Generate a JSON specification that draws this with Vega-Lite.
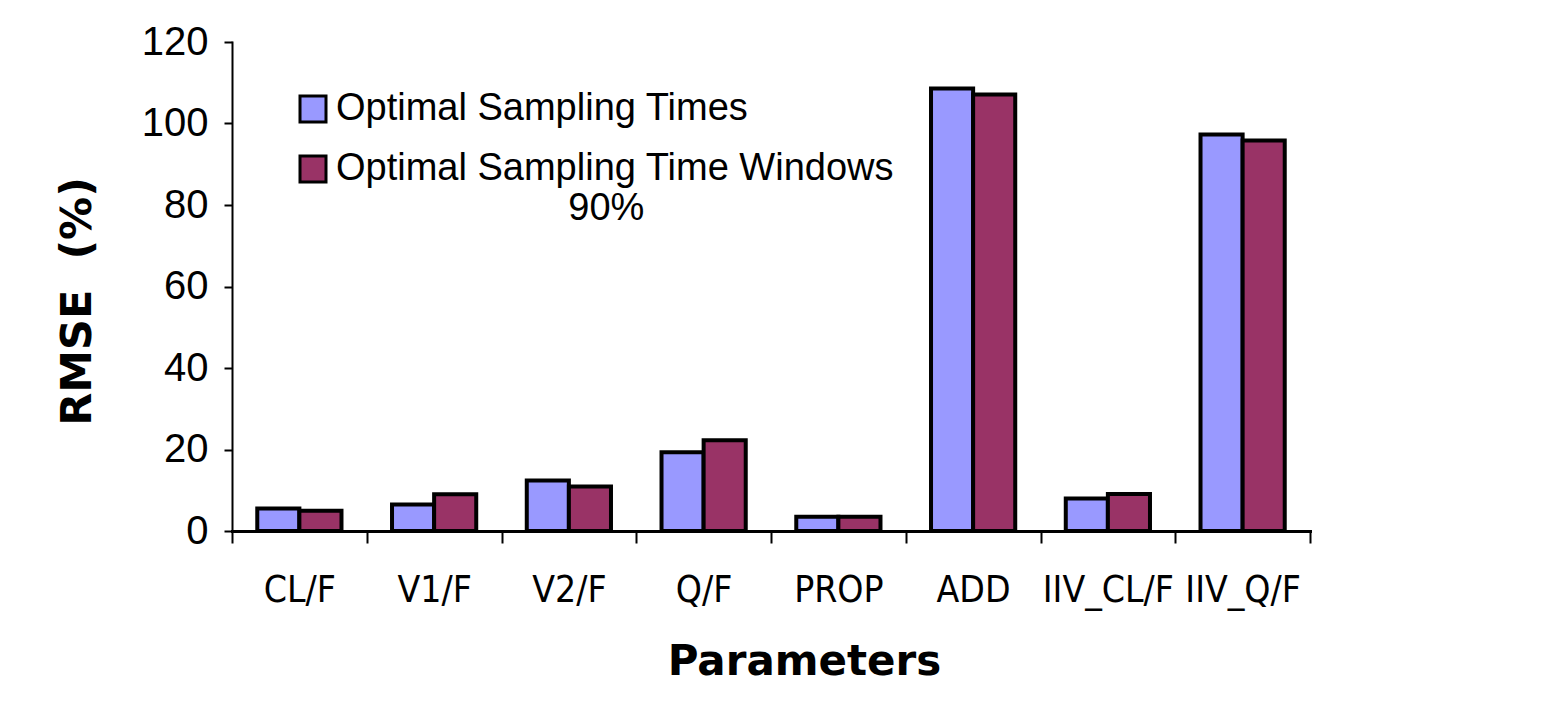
{
  "$schema": "https://vega.github.io/schema/vega-lite/v6.json",
  "width": 1078,
  "height": 489,
  "autosize": {"type": "none"},
  "padding": {"left": 232, "top": 42, "right": 242, "bottom": 181},
  "background": "white",
  "data": {
    "values": [
      {"param": "CL/F", "series": "Optimal Sampling Times", "rmse": 5.5},
      {"param": "CL/F", "series": "Optimal Sampling Time Windows", "rmse": 5.0},
      {"param": "V1/F", "series": "Optimal Sampling Times", "rmse": 6.5},
      {"param": "V1/F", "series": "Optimal Sampling Time Windows", "rmse": 9.0},
      {"param": "V2/F", "series": "Optimal Sampling Times", "rmse": 12.4},
      {"param": "V2/F", "series": "Optimal Sampling Time Windows", "rmse": 10.9},
      {"param": "Q/F", "series": "Optimal Sampling Times", "rmse": 19.3},
      {"param": "Q/F", "series": "Optimal Sampling Time Windows", "rmse": 22.3},
      {"param": "PROP", "series": "Optimal Sampling Times", "rmse": 3.5},
      {"param": "PROP", "series": "Optimal Sampling Time Windows", "rmse": 3.5},
      {"param": "ADD", "series": "Optimal Sampling Times", "rmse": 108.6},
      {"param": "ADD", "series": "Optimal Sampling Time Windows", "rmse": 107.1},
      {"param": "IIV_CL/F", "series": "Optimal Sampling Times", "rmse": 8.0},
      {"param": "IIV_CL/F", "series": "Optimal Sampling Time Windows", "rmse": 9.1},
      {"param": "IIV_Q/F", "series": "Optimal Sampling Times", "rmse": 97.3},
      {"param": "IIV_Q/F", "series": "Optimal Sampling Time Windows", "rmse": 95.8}
    ]
  },
  "mark": {"type": "bar", "stroke": "black", "strokeWidth": 4},
  "encoding": {
    "x": {
      "field": "param",
      "type": "nominal",
      "sort": null,
      "scale": {"paddingInner": 0, "paddingOuter": 0},
      "axis": {
        "title": "Parameters",
        "titleFont": "DejaVu Sans",
        "titleFontWeight": "bold",
        "titleFontSize": 42,
        "titleColor": "black",
        "titlePadding": 33,
        "titleX": 572,
        "labelFont": "DejaVu Sans Condensed, DejaVu Sans",
        "labelFontSize": 37,
        "labelColor": "black",
        "labelAngle": 0,
        "labelPadding": 29,
        "tickBand": "extent",
        "tickSize": 12,
        "tickWidth": 2,
        "tickColor": "black",
        "domainColor": "black",
        "domainWidth": 3
      }
    },
    "xOffset": {
      "field": "series",
      "type": "nominal",
      "sort": ["Optimal Sampling Times", "Optimal Sampling Time Windows"],
      "scale": {"paddingInner": 0, "paddingOuter": 0.6}
    },
    "y": {
      "field": "rmse",
      "type": "quantitative",
      "scale": {"domain": [0, 120], "nice": false},
      "axis": {
        "title": "RMSE\u00a0\u00a0(%)",
        "titleFont": "DejaVu Sans",
        "titleFontWeight": "bold",
        "titleFontSize": 43,
        "titleColor": "black",
        "titlePadding": 42,
        "titleY": 259,
        "values": [0, 20, 40, 60, 80, 100, 120],
        "grid": false,
        "labelFont": "Liberation Sans",
        "labelFontSize": 40,
        "labelColor": "black",
        "labelPadding": 16,
        "tickSize": 8,
        "tickWidth": 2,
        "tickColor": "black",
        "domainColor": "black",
        "domainWidth": 2
      }
    },
    "color": {
      "field": "series",
      "type": "nominal",
      "sort": ["Optimal Sampling Times", "Optimal Sampling Time Windows"],
      "scale": {
        "domain": ["Optimal Sampling Times", "Optimal Sampling Time Windows"],
        "range": ["#9999FF", "#993366"]
      },
      "legend": {
        "title": null,
        "orient": "none",
        "legendX": 62,
        "legendY": 48,
        "symbolType": "square",
        "symbolSize": 676,
        "symbolStrokeColor": "black",
        "symbolStrokeWidth": 3,
        "symbolOpacity": 1,
        "labelFont": "Liberation Sans",
        "labelFontSize": 38,
        "labelColor": "black",
        "labelOffset": 4,
        "labelLimit": 0,
        "rowPadding": 22,
        "labelExpr": "datum.label == 'Optimal Sampling Time Windows' ? ['Optimal Sampling Time Windows', '\u200b\u00a0\u00a0\u00a0\u00a0\u00a0\u00a0\u00a0\u00a0\u00a0\u00a0\u00a0\u00a0\u00a0\u00a0\u00a0\u00a0\u00a0\u00a0\u00a0\u00a0\u00a0\u00a090%'] : datum.label"
      }
    }
  },
  "config": {
    "view": {"stroke": null},
    "axis": {"domainCap": "square"}
  }
}
